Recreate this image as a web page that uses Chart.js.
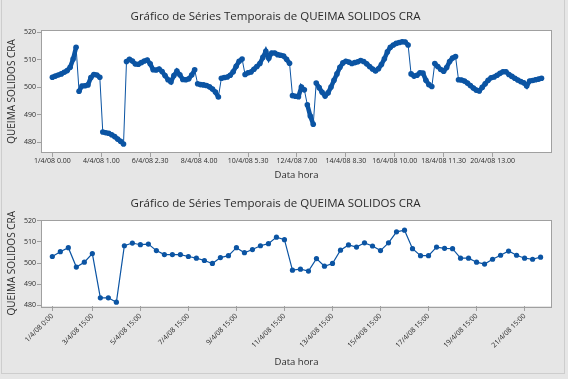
<!DOCTYPE html>
<html>
<head>
<meta charset="utf-8">
<script src="https://cdn.jsdelivr.net/npm/chart.js@4.4.1/dist/chart.umd.min.js"></script>
<style>
  html, body { margin: 0; padding: 0; background: #e6e6e6; }
  #wrap { position: relative; width: 568px; height: 379px; overflow: hidden; }
  #frame { position: absolute; left: 1px; top: -2px; width: 564px; height: 376px; border: 1px solid #cdcdcd; box-sizing: border-box; }
  canvas { position: absolute; left: 0; }
  #topChart { top: 0; }
  #bottomChart { top: 188px; }
</style>
</head>
<body>
<div id="wrap">
  <div id="frame"></div>
  <canvas id="topChart" width="568" height="188"></canvas>
  <canvas id="bottomChart" width="568" height="191"></canvas>
</div>
<script>
// Série completa (leitura a cada ~3 px do gráfico de cima)
const topValues = [
  503.6, 504.0, 504.4, 504.8, 505.4, 506.0, 507.2, 510.2, 514.5, 498.5,
  500.4, 500.5, 500.8, 503.5, 504.6, 504.4, 503.6, 483.7, 483.4, 483.2,
  482.7, 482.0, 481.1, 480.3, 479.3, 509.3, 510.1, 509.5, 508.4, 508.3,
  508.9, 509.5, 509.8, 508.5, 506.3, 506.2, 506.6, 505.7, 504.2, 502.7,
  501.9, 504.2, 505.8, 504.5, 502.8, 502.7, 503.0, 504.4, 506.3, 501.2,
  500.9, 500.8, 500.6, 500.1, 499.3, 498.2, 496.4, 503.2, 503.5, 503.7,
  504.3, 505.6, 507.6, 509.4, 510.2, 504.6, 505.2, 505.5, 506.5, 507.5,
  508.6, 510.8, 513.0, 510.5, 512.4, 512.4, 511.8, 511.6, 511.3, 510.1,
  508.7, 496.9, 496.7, 496.5, 500.0, 499.0, 493.6, 489.5, 486.5, 501.5,
  499.8, 498.1, 496.8, 497.9, 500.0, 502.5, 504.8, 507.2, 508.8, 509.4,
  509.1, 508.6, 508.9, 509.2, 509.7, 509.3, 508.5, 507.5, 506.6, 505.9,
  506.7, 508.2, 510.3, 512.8, 514.5, 515.3, 515.9, 516.2, 516.5, 516.4,
  515.3, 504.8, 504.0, 504.3, 505.2, 505.1, 502.5, 500.9, 500.2, 508.6,
  507.5, 506.4, 505.8, 507.1, 509.3, 510.6, 511.1, 502.7, 502.6, 502.2,
  501.5, 500.6, 499.7, 498.9, 498.6, 499.9, 501.2, 502.5, 503.4, 503.7,
  504.3, 505.0, 505.6, 505.6, 504.6, 503.9, 503.2, 502.6, 502.0, 501.6,
  500.4, 502.2, 502.4, 502.7, 502.9, 503.2
];
const topTickLabels = [
  '1/4/08 0.00', '4/4/08 1.00', '6/4/08 2.30', '8/4/08 4.00', '10/4/08 5.30',
  '12/4/08 7.00', '14/4/08 8.30', '16/4/08 10.00', '18/4/08 11.30', '20/4/08 13.00'
];
const topTickStep = 16.5; // amostras entre rótulos

// Série amostrada (gráfico de baixo)
const bottomValues = [
  503.1, 505.4, 507.3, 498.1, 500.4, 504.5, 483.5, 483.5, 481.4, 508.2,
  509.5, 508.7, 509.0, 505.9, 504.0, 504.0, 504.0, 503.1, 502.3, 501.2,
  499.8, 502.6, 503.5, 507.3, 504.9, 506.4, 508.2, 509.2, 512.3, 511.1,
  496.6, 497.1, 496.2, 502.1, 498.5, 499.8, 506.1, 508.6, 507.6, 509.6,
  508.1, 505.9, 509.6, 514.8, 515.6, 506.8, 503.5, 503.5, 507.6, 507.0,
  506.8, 502.3, 502.3, 500.4, 499.5, 501.8, 503.7, 505.7, 503.7, 502.3,
  501.8, 502.8
];
const bottomTickIndex = [0, 5, 11, 17, 23, 29, 35, 41, 47, 53, 59];
const bottomTickLabels = [
  '1/4/08 0:00', '3/4/08 15:00', '5/4/08 15:00', '7/4/08 15:00', '9/4/08 15:00',
  '11/4/08 15:00', '13/4/08 15:00', '15/4/08 15:00', '17/4/08 15:00', '19/4/08 15:00', '21/4/08 15:00'
];

const yTicks = [480, 490, 500, 510, 520];

const TITLE = 'Gráfico de Séries Temporais de QUEIMA SOLIDOS CRA';
const FONT = "'Open Sans', sans-serif";
const BLUE = '#0b54a3';
const TEXT = '#2b2b2b';
const AXIS = '#a0a0a0';

// fundo branco e moldura da área do gráfico
const plotFrame = {
  id: 'plotFrame',
  beforeDraw(chart) {
    const a = chart.chartArea;
    const ctx = chart.ctx;
    ctx.save();
    ctx.fillStyle = '#ffffff';
    ctx.fillRect(a.left, a.top, a.right - a.left, a.bottom - a.top);
    ctx.restore();
  },
  afterDraw(chart) {
    const a = chart.chartArea;
    const ctx = chart.ctx;
    ctx.save();
    ctx.strokeStyle = AXIS;
    ctx.lineWidth = 1;
    ctx.strokeRect(Math.round(a.left) - 0.5, Math.round(a.top) - 0.5,
      Math.round(a.right - a.left) + 1, Math.round(a.bottom - a.top) + 1);
    ctx.restore();
  }
};

function yScale(min, max) {
  return {
    min: min,
    max: max,
    afterBuildTicks: s => { s.ticks = yTicks.map(v => ({ value: v })); },
    afterFit: s => { s.width = 42; },
    ticks: { color: TEXT, padding: 1, font: { family: FONT, size: 7 } },
    grid: { drawOnChartArea: false, tickLength: 5, color: AXIS },
    border: { display: false },
    title: {
      display: true, text: 'QUEIMA SOLIDOS CRA', color: TEXT,
      font: { family: FONT, size: 10 }, padding: { top: 6, bottom: 0 }
    }
  };
}

function titleOpts(padTop, padBottom) {
  return {
    display: true, text: TITLE, color: TEXT,
    font: { family: FONT, size: 11.5, weight: 'normal' },
    padding: { top: padTop, bottom: padBottom }
  };
}

new Chart(document.getElementById('topChart'), {
  type: 'line',
  data: {
    datasets: [{
      data: topValues.map((v, i) => ({ x: i, y: v })),
      borderColor: BLUE,
      backgroundColor: BLUE,
      borderWidth: 1,
      pointRadius: 2.8,
      pointBorderWidth: 0,
      tension: 0,
      // traço grosso entre pontos vizinhos, fino nos saltos verticais
      segment: {
        borderWidth: c => Math.abs(c.p1.parsed.y - c.p0.parsed.y) > 5 ? 1 : 4.5
      }
    }]
  },
  options: {
    responsive: false,
    animation: false,
    layout: { padding: { left: 0, right: 17, top: 0, bottom: 0 } },
    plugins: {
      legend: { display: false },
      tooltip: { enabled: false },
      title: titleOpts(10.1, 7.1)
    },
    scales: {
      x: {
        type: 'linear',
        min: -3.5,
        max: 168.2,
        afterBuildTicks: s => { s.ticks = topTickLabels.map((_, j) => ({ value: j * topTickStep })); },
        afterFit: s => { s.height = 36; },
        ticks: {
          autoSkip: false, maxRotation: 0, minRotation: 0, padding: 0, color: TEXT,
          font: { family: FONT, size: 7 },
          callback: (v, i) => topTickLabels[i]
        },
        grid: { drawOnChartArea: false, tickLength: 5, color: AXIS },
        border: { display: false },
        title: {
          display: true, text: 'Data hora', color: TEXT,
          font: { family: FONT, size: 9.5 }, padding: { top: 0, bottom: 7.3 }
        }
      },
      y: yScale(476.4, 520.4)
    }
  },
  plugins: [plotFrame]
});

new Chart(document.getElementById('bottomChart'), {
  type: 'line',
  data: {
    datasets: [{
      data: bottomValues.map((v, i) => ({ x: i, y: v })),
      borderColor: BLUE,
      backgroundColor: BLUE,
      borderWidth: 1.2,
      pointRadius: 2.6,
      pointBorderWidth: 0,
      tension: 0
    }]
  },
  options: {
    responsive: false,
    animation: false,
    layout: { padding: { left: 0, right: 17, top: 0, bottom: 0 } },
    plugins: {
      legend: { display: false },
      tooltip: { enabled: false },
      title: titleOpts(9.1, 9.6)
    },
    scales: {
      x: {
        type: 'linear',
        min: -1.29,
        max: 62.3,
        afterBuildTicks: s => { s.ticks = bottomTickIndex.map(v => ({ value: v })); },
        afterFit: s => { s.height = 73; },
        ticks: {
          autoSkip: false, maxRotation: 45, minRotation: 45, padding: 1, color: TEXT,
          font: { family: FONT, size: 7 },
          callback: (v, i) => bottomTickLabels[i]
        },
        grid: { drawOnChartArea: false, tickLength: 5, color: AXIS },
        border: { display: false },
        title: {
          display: true, text: 'Data hora', color: TEXT,
          font: { family: FONT, size: 9.5 }, padding: { top: 0, bottom: 11.3 }
        }
      },
      y: yScale(479.6, 520.2)
    }
  },
  plugins: [plotFrame]
});
</script>
</body>
</html>
